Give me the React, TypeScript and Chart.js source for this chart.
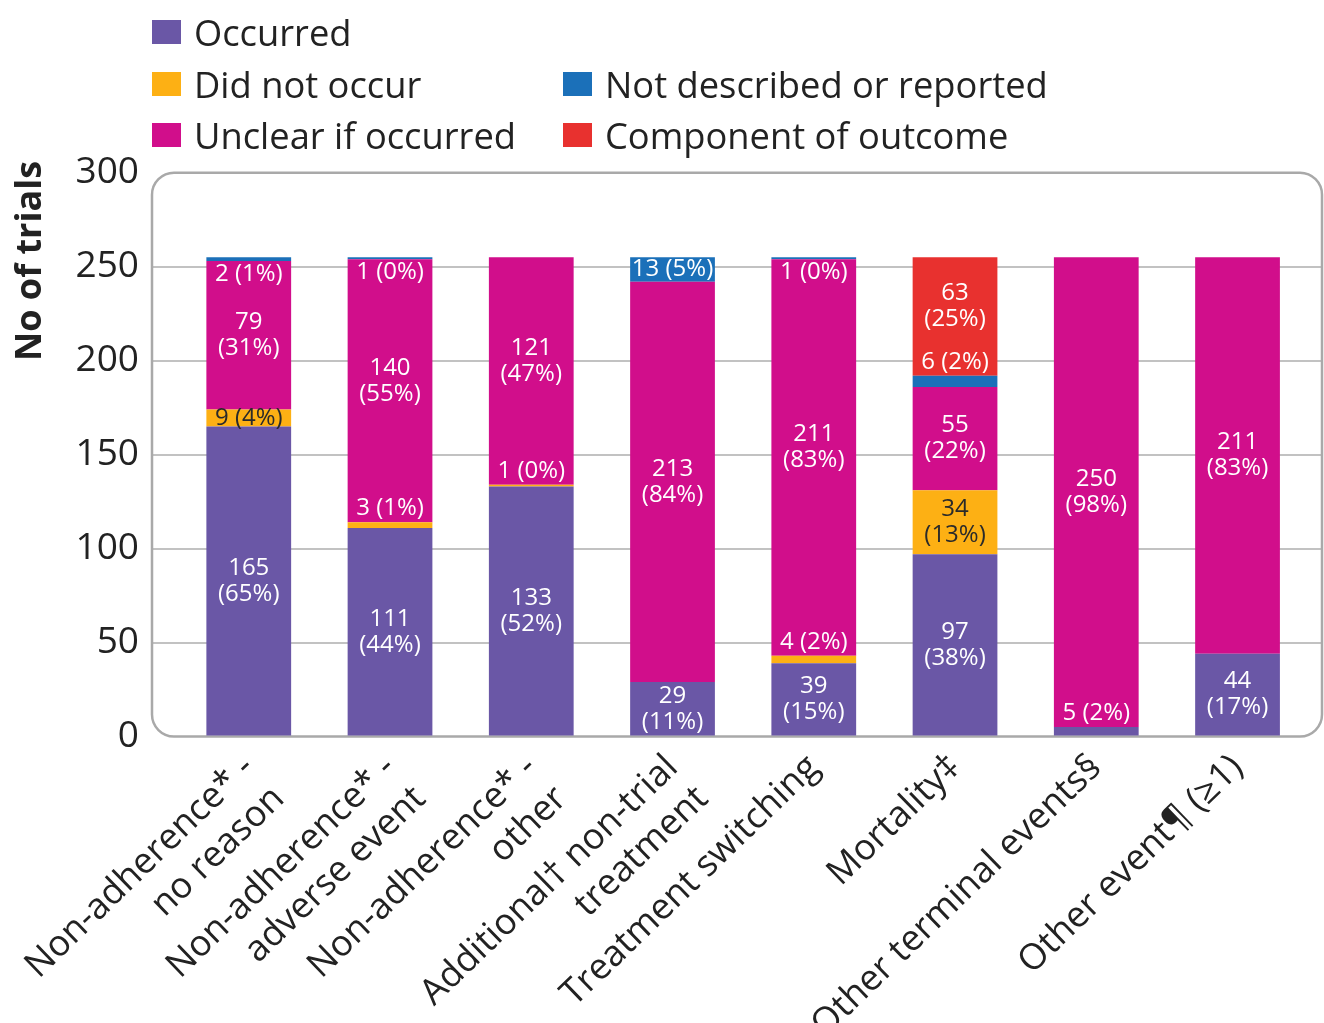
import React, { useEffect, useRef } from "react";
import { Chart, registerables } from "chart.js";

Chart.register(...registerables);

// ---------- data ----------
const categories: string[][] = [
  ["Non-adherence* -", "no reason"],
  ["Non-adherence* -", "adverse event"],
  ["Non-adherence* -", "other"],
  ["Additional† non-trial", "treatment"],
  ["Treatment switching"],
  ["Mortality‡"],
  ["Other terminal events§"],
  ["Other event¶ (≥1)"],
];
const seriesNames = [
  "Occurred",
  "Did not occur",
  "Unclear if occurred",
  "Not described or reported",
  "Component of outcome",
];
const occurred = [165, 111, 133, 29, 39, 97, 5, 44];
const didNotOccur = [9, 3, 1, 0, 4, 34, 0, 0];
const unclearIfOccurred = [79, 140, 121, 213, 211, 55, 250, 211];
const notDescribed = [2, 1, 0, 13, 1, 6, 0, 0];
const componentOfOutcome = [0, 0, 0, 0, 0, 63, 0, 0];
const totalTrials = 255;
const yTickValues = [0, 50, 100, 150, 200, 250, 300];
const yAxisTitle = "No of trials";

const seriesValues = [occurred, didNotOccur, unclearIfOccurred, notDescribed, componentOfOutcome];

// ---------- styles ----------
const FONT = "'Open Sans', 'Noto Sans', sans-serif";
const seriesColors = ["#6A57A6", "#FDB014", "#D10E8B", "#1B70B9", "#E8312F"];
const labelColors = ["#ffffff", "#2a2a2a", "#ffffff", "#ffffff", "#ffffff"];
const TEXT = "#222222";

const legendLayout = [
  { series: 0, x: 152, y: 32 },
  { series: 1, x: 152, y: 84 },
  { series: 3, x: 563, y: 84 },
  { series: 2, x: 152, y: 135 },
  { series: 4, x: 563, y: 135 },
];

const borderPlugin = {
  id: "roundBorder",
  beforeDatasetsDraw(chart: any) {
    const { ctx, chartArea } = chart;
    ctx.save();
    ctx.strokeStyle = "#a9a9a9";
    ctx.lineWidth = 2.5;
    ctx.beginPath();
    ctx.roundRect(
      chartArea.left,
      chartArea.top,
      chartArea.right - chartArea.left,
      chartArea.bottom - chartArea.top,
      22
    );
    ctx.stroke();
    ctx.restore();
  },
};

const SMALL_PX = 15;

const segLabelPlugin = {
  id: "segLabels",
  afterDatasetsDraw(chart: any) {
    const { ctx } = chart;
    ctx.save();
    ctx.font = `24px ${FONT}`;
    ctx.textAlign = "center";
    ctx.textBaseline = "middle";
    const segs = chart.data.datasets.map((_ds: any, di: number) =>
      chart.getDatasetMeta(di).data.map((el: any) => {
        const { y, base } = el.getProps(["y", "base"], true);
        return { x: el.x, top: Math.min(y, base), bottom: Math.max(y, base) };
      })
    );
    const placesAbove = (di: number, j: number) => {
      const v = seriesValues[di][j];
      if (!v) return false;
      const s = segs[di][j];
      if (s.bottom - s.top >= SMALL_PX) return false;
      return seriesValues.slice(di + 1).some((arr) => arr[j] > 0);
    };
    chart.data.datasets.forEach((_ds: any, di: number) => {
      segs[di].forEach((s: any, j: number) => {
        const v = seriesValues[di][j];
        if (!v) return;
        const pct = Math.round((v / totalTrials) * 100);
        const { x, top, bottom } = s;
        const h = bottom - top;
        let below = -1;
        for (let k = di - 1; k >= 0; k--) {
          if (seriesValues[k][j] > 0) {
            below = k;
            break;
          }
        }
        const shift = below >= 0 && placesAbove(below, j) && h < 420 ? -10 : 0;
        if (h >= 50) {
          const c = (top + bottom) / 2 + shift;
          ctx.fillStyle = labelColors[di];
          ctx.fillText(String(v), x, c - 13);
          ctx.fillText(`(${pct}%)`, x, c + 13);
        } else if (h >= SMALL_PX) {
          ctx.fillStyle = labelColors[di];
          ctx.fillText(`${v} (${pct}%)`, x, (top + bottom) / 2);
        } else {
          const hasAbove = placesAbove(di, j);
          ctx.fillStyle = "#ffffff";
          ctx.fillText(`${v} (${pct}%)`, x, hasAbove ? top - 14 : bottom + 13);
        }
      });
    });
    ctx.restore();
  },
};

const yTitlePlugin = {
  id: "yTitle",
  afterDraw(chart: any) {
    const { ctx } = chart;
    ctx.save();
    ctx.translate(31, 261);
    ctx.rotate(-Math.PI / 2);
    ctx.font = `bold 36px ${FONT}`;
    ctx.fillStyle = TEXT;
    ctx.textAlign = "center";
    ctx.textBaseline = "middle";
    ctx.fillText(yAxisTitle, 0, 0);
    ctx.restore();
  },
};

export default function App() {
  const canvasRef = useRef<HTMLCanvasElement | null>(null);

  useEffect(() => {
    if (!canvasRef.current) return;
    const datasets = seriesNames.map((name, di) => ({
      label: name,
      data: seriesValues[di].map((v, i) => ({ x: i, y: v })),
      backgroundColor: seriesColors[di],
      borderWidth: 0,
      categoryPercentage: 1,
      barPercentage: 0.6,
    }));
    const chart = new Chart(canvasRef.current, {
      type: "bar",
      data: { datasets },
      options: {
        animation: false,
        responsive: false,
        devicePixelRatio: 1,
        layout: { padding: { top: 172.7, right: 2, bottom: 0, left: 0 } },
        plugins: {
          legend: { display: false },
          tooltip: { enabled: false },
        },
        scales: {
          x: {
            type: "linear",
            stacked: true,
            offset: false,
            min: -0.685,
            max: 7.598,
            grid: { display: false, drawTicks: false },
            border: { display: false },
            afterBuildTicks: (axis: any) => {
              axis.ticks = categories.map((_c, i) => ({ value: i }));
            },
            afterFit: (axis: any) => {
              axis.height = 1023 - 736.5;
            },
            ticks: {
              autoSkip: false,
              maxRotation: 44,
              minRotation: 44,
              padding: 10,
              color: TEXT,
              font: { family: FONT, size: 36, lineHeight: 1.2 },
              callback: (value: any) => categories[Math.round(Number(value))] ?? "",
            },
          },
          y: {
            stacked: true,
            min: 0,
            max: 300,
            grid: {
              drawTicks: false,
              lineWidth: 2,
              color: (c: any) =>
                c.tick && (c.tick.value === 0 || c.tick.value === 300) ? "rgba(0,0,0,0)" : "#c2c2c2",
            },
            border: { display: false },
            afterBuildTicks: (axis: any) => {
              axis.ticks = yTickValues.map((v) => ({ value: v }));
            },
            afterFit: (axis: any) => {
              axis.width = 152;
            },
            ticks: {
              padding: 13,
              color: TEXT,
              font: { family: FONT, size: 37 },
            },
          },
        },
      } as any,
      plugins: [borderPlugin, segLabelPlugin, yTitlePlugin],
    });
    return () => chart.destroy();
  }, []);

  return (
    <div style={{ position: "absolute", left: 0, top: 0, width: 1324, height: 1023, background: "#fff" }}>
      <canvas ref={canvasRef} width={1324} height={1023} style={{ position: "absolute", left: 0, top: 0 }} />
      {legendLayout.map((item) => (
        <div
          key={item.series}
          style={{
            position: "absolute",
            left: item.x,
            top: item.y - 22,
            height: 44,
            display: "flex",
            alignItems: "center",
            fontFamily: FONT,
            fontSize: 36.3,
            color: TEXT,
            whiteSpace: "nowrap",
          }}
        >
          <span
            style={{
              display: "inline-block",
              width: 29,
              height: 24,
              background: seriesColors[item.series],
              marginRight: 13,
            }}
          />
          <span>{seriesNames[item.series]}</span>
        </div>
      ))}
    </div>
  );
}
